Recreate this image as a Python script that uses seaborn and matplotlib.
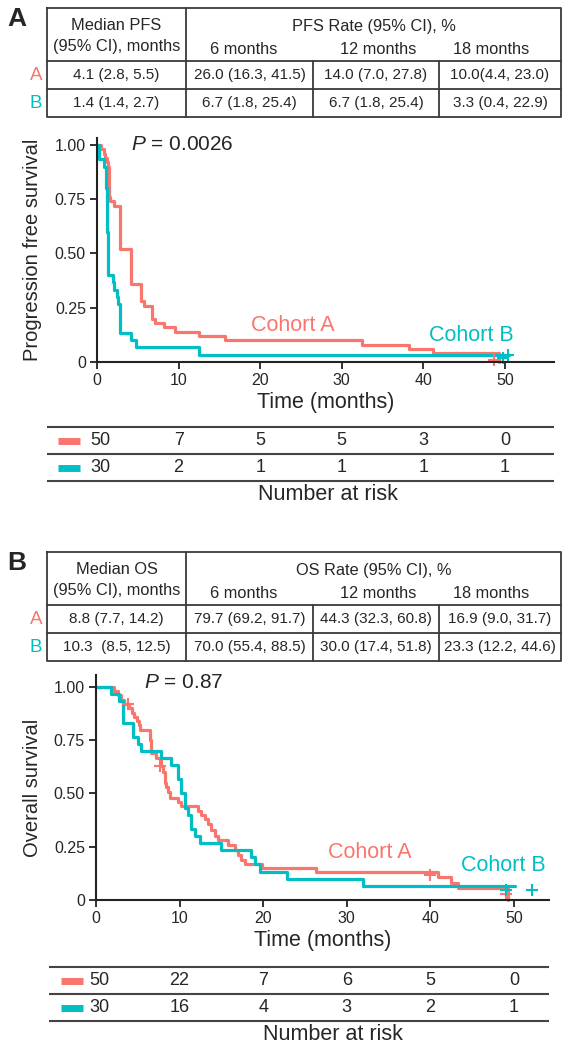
import numpy as np
import pandas as pd
import matplotlib
matplotlib.use("Agg")
import matplotlib.pyplot as plt
import seaborn as sns

sns.set_theme(style="ticks")
plt.rcParams['font.family'] = ['Liberation Sans', 'DejaVu Sans']
plt.rcParams['mathtext.fontset'] = 'custom'
plt.rcParams['mathtext.it'] = 'Liberation Sans:italic'
plt.rcParams['mathtext.rm'] = 'Liberation Sans'

SALMON = "#F8766D"
TEAL = "#00BFC4"
W, H = 570, 1050

# ─── Data ────────────────────────────────────────────────────────────────
# PFS Kaplan-Meier steps (months, survival)
pfs_a_t = [0, 0.5, 0.8, 1.0, 1.2, 1.3, 1.45, 1.6, 2.1, 2.85, 4.15, 5.45, 5.7,
           6.8, 7.1, 8.2, 9.6, 12.5, 15.7, 32.5, 38.2, 41.2, 49.3]
pfs_a_s = [1.0, 0.98, 0.96, 0.94, 0.92, 0.90, 0.76, 0.74, 0.72, 0.52, 0.36, 0.28, 0.26,
           0.20, 0.18, 0.16, 0.14, 0.12, 0.10, 0.08, 0.06, 0.04, 0.0]
pfs_b_t = [0, 0.3, 0.8, 1.1, 1.2, 1.3, 1.9, 2.1, 2.4, 2.6, 2.8, 4.15, 4.75, 12.5, 50.5]
pfs_b_s = [1.0, 0.933, 0.90, 0.80, 0.60, 0.40, 0.367, 0.333, 0.30, 0.267, 0.133,
           0.10, 0.067, 0.033, 0.033]
pfs_cens_a_t, pfs_cens_a_s = [48.7], [0.01]
pfs_cens_b_t, pfs_cens_b_s = [49.8, 50.4], [0.02, 0.033]

# OS Kaplan-Meier steps
os_a_t = [0, 2.2, 2.6, 3.0, 3.4, 4.0, 4.3, 4.6, 4.9, 5.1, 5.3, 6.4, 6.6, 7.2, 7.8,
          8.0, 8.2, 8.4, 8.6, 8.8, 9.8, 10.2, 12.2, 12.6, 13.0, 13.4, 13.8, 14.2,
          14.6, 15.8, 16.6, 17.0, 17.4, 17.8, 19.8, 26.3, 40.9, 42.5, 43.3, 49.3]
os_a_s = [1.0, 0.98, 0.96, 0.94, 0.92, 0.90, 0.88, 0.86, 0.84, 0.82, 0.797, 0.75,
          0.69, 0.665, 0.63, 0.60, 0.55, 0.53, 0.505, 0.48, 0.46, 0.443, 0.42, 0.40,
          0.38, 0.355, 0.33, 0.30, 0.28, 0.26, 0.235, 0.21, 0.19, 0.169, 0.148,
          0.132, 0.106, 0.081, 0.055, 0.0]
os_b_t = [0, 1.8, 2.8, 3.2, 4.4, 5.0, 5.4, 7.8, 9.0, 9.8, 10.2, 10.6, 11.0, 11.4,
          11.8, 12.4, 15.0, 18.6, 19.0, 19.6, 22.9, 31.9, 50.1]
os_b_s = [1.0, 0.967, 0.933, 0.833, 0.767, 0.733, 0.70, 0.667, 0.633, 0.567, 0.50,
          0.433, 0.40, 0.333, 0.30, 0.267, 0.233, 0.20, 0.167, 0.133, 0.10, 0.067, 0.067]
os_cens_a_t, os_cens_a_s = [3.8, 7.6, 40.0, 49.0], [0.92, 0.63, 0.115, 0.03]
os_cens_b_t, os_cens_b_s = [49.0, 52.2], [0.045, 0.045]

# Tables
rate_cols = ["6 months", "12 months", "18 months"]
pfs_median = ["4.1 (2.8, 5.5)", "1.4 (1.4, 2.7)"]
pfs_rates_a = ["26.0 (16.3, 41.5)", "14.0 (7.0, 27.8)", "10.0(4.4, 23.0)"]
pfs_rates_b = ["6.7 (1.8, 25.4)", "6.7 (1.8, 25.4)", "3.3 (0.4, 22.9)"]
os_median = ["8.8 (7.7, 14.2)", "10.3  (8.5, 12.5)"]
os_rates_a = ["79.7 (69.2, 91.7)", "44.3 (32.3, 60.8)", "16.9 (9.0, 31.7)"]
os_rates_b = ["70.0 (55.4, 88.5)", "30.0 (17.4, 51.8)", "23.3 (12.2, 44.6)"]

risk_times = [0, 10, 20, 30, 40, 50]
pfs_risk_a = [50, 7, 5, 5, 3, 0]
pfs_risk_b = [30, 2, 1, 1, 1, 1]
os_risk_a = [50, 22, 7, 6, 5, 0]
os_risk_b = [30, 16, 4, 3, 2, 1]


def px_axes(fig, left, top, right, bottom):
    return fig.add_axes([left / W, 1 - bottom / H, (right - left) / W, (bottom - top) / H])


def stats_table(ax, top, title, median_head, rate_head, med, rates_a, rates_b):
    x0, c1, c2, c3, x1 = 47, 186, 313, 439, 561
    hsep, rsep, bot = top + 53, top + 81, top + 109
    lc = "#3a3a3a"
    ax.plot([x0, x1, x1, x0, x0], [top, top, bot, bot, top], color=lc, lw=1.3)
    ax.plot([x0, x1], [hsep, hsep], color=lc, lw=1.3)
    ax.plot([x0, x1], [rsep, rsep], color=lc, lw=1.3)
    ax.plot([c1, c1], [top, bot], color=lc, lw=1.3)
    for c in (c2, c3):
        ax.plot([c, c], [hsep, bot], color=lc, lw=1.3)
    fs, hs = 11, 11.8
    ax.text(17, top + 11, title, fontsize=19, fontweight="bold", ha="center", va="center")
    ax.text((x0 + c1) / 2, top + 17, median_head[0], fontsize=hs, ha="center", va="center")
    ax.text((x0 + c1) / 2, top + 38, median_head[1], fontsize=hs, ha="center", va="center")
    ax.text((c1 + x1) / 2, top + 18, rate_head, fontsize=hs, ha="center", va="center")
    for cx, lab in zip([244, 378, 491], rate_cols):
        ax.text(cx, top + 41, lab, fontsize=hs, ha="center", va="center")
    centers = [(x0 + c1) / 2, (c1 + c2) / 2, (c2 + c3) / 2, (c3 + x1) / 2]
    for row, (lab, col, vals) in enumerate([("A", SALMON, [med[0]] + rates_a),
                                            ("B", TEAL, [med[1]] + rates_b)]):
        yc = (hsep + rsep) / 2 if row == 0 else (rsep + bot) / 2
        ax.text(36, yc, lab, fontsize=13.5, color=col, ha="center", va="center")
        for cx, v in zip(centers, vals):
            ax.text(cx, yc, v, fontsize=fs, ha="center", va="center")


def km_panel(fig, box, xmax, ytop, curves, cens, ylabel, ptext, pxy, labels):
    left, top, right, bottom = box
    ax = px_axes(fig, left, top, right, bottom)
    for (t, s), col in zip(curves, [SALMON, TEAL]):
        df = pd.DataFrame({"t": t, "s": s})
        sns.lineplot(data=df, x="t", y="s", drawstyle="steps-post", color=col,
                     lw=2.3, estimator=None, sort=False, ax=ax, clip_on=False)
    for (t, s), col in zip(cens, [SALMON, TEAL]):
        ax.plot(t, s, "+", color=col, ms=9, mew=1.5, clip_on=False)
    ax.set_xlim(0, xmax)
    ax.set_ylim(0, ytop)
    ax.set_xticks([0, 10, 20, 30, 40, 50])
    ax.set_yticks([0, 0.25, 0.5, 0.75, 1.0])
    ax.set_yticklabels(["0", "0.25", "0.50", "0.75", "1.00"])
    ax.tick_params(labelsize=11.5, length=5, width=1.3, color="#222222", pad=3)
    for sp in ("top", "right"):
        ax.spines[sp].set_visible(False)
    for sp in ("left", "bottom"):
        ax.spines[sp].set_linewidth(1.5)
        ax.spines[sp].set_color("#222222")
    ax.set_xlabel("Time (months)", fontsize=15.5, labelpad=3)
    ax.set_ylabel(ylabel, fontsize=14.5)
    ax.yaxis.set_label_coords((42 - left) / (right - left), 0.5)
    ax.text(pxy[0], pxy[1], "$\\it{P}$" + ptext, fontsize=15, ha="left", va="center")
    for (lx, ly, lab), col in zip(labels, [SALMON, TEAL]):
        ax.text(lx, ly, lab, fontsize=15.5, color=col, ha="center", va="center")
    return ax


def risk_table(fig, left0, xleft, xright, ppm, top, risks):
    ax = px_axes(fig, xleft, top - 5, xright, top + 75)
    ax.set_xlim((xleft - left0) / ppm, (xright - left0) / ppm)
    ax.set_ylim(top + 75, top - 5)
    ax.axis("off")
    lo, hi = ax.get_xlim()
    lc = "#444444"
    for yy in (top, top + 27, top + 54):
        ax.plot([lo, hi], [yy, yy], color=lc, lw=1.5)
    for (yy, col, vals) in zip([top + 13.5, top + 40.5], [SALMON, TEAL], risks):
        ax.plot([lo + 1.4, lo + 4.1], [yy, yy], color=col, lw=5, solid_capstyle="butt")
        for i, (tt, v) in enumerate(zip(risk_times, vals)):
            ax.text(tt + (0.4 if i == 0 else 0), yy, str(v), fontsize=13,
                    ha="center", va="center")
    ax.text(28.3, top + 68, "Number at risk", fontsize=15.5, ha="center", va="center")
    return ax


fig = plt.figure(figsize=(W / 100, H / 100), dpi=100)
over = fig.add_axes([0, 0, 1, 1])
over.set_xlim(0, W)
over.set_ylim(H, 0)
over.axis("off")

# ─── Panel A ─────────────────────────────────────────────────────────────
stats_table(over, 8, "A", ["Median PFS", "(95% CI), months"], "PFS Rate (95% CI), %",
            pfs_median, pfs_rates_a, pfs_rates_b)
ppm_a = (505 - 97) / 50
km_panel(fig, (97, 138, 97 + 56 * ppm_a, 362), 56, 1.032,
         [(pfs_a_t, pfs_a_s), (pfs_b_t, pfs_b_s)],
         [(pfs_cens_a_t, pfs_cens_a_s), (pfs_cens_b_t, pfs_cens_b_s)],
         "Progression free survival", " = 0.0026", (4.2, 1.0),
         [(24, 0.17, "Cohort A"), (45.9, 0.124, "Cohort B")])
risk_table(fig, 97, 47, 97 + 56 * ppm_a, ppm_a, 427, [pfs_risk_a, pfs_risk_b])

# ─── Panel B ─────────────────────────────────────────────────────────────
stats_table(over, 552, "B", ["Median OS", "(95% CI), months"], "OS Rate (95% CI), %",
            os_median, os_rates_a, os_rates_b)
ppm_b = (514 - 96) / 50
km_panel(fig, (96, 675, 96 + 54.2 * ppm_b, 900), 54.2, 1.056,
         [(os_a_t, os_a_s), (os_b_t, os_b_s)],
         [(os_cens_a_t, os_cens_a_s), (os_cens_b_t, os_cens_b_s)],
         "Overall survival", " = 0.87", (5.8, 1.02),
         [(32.7, 0.225, "Cohort A"), (48.7, 0.164, "Cohort B")])
risk_table(fig, 96, 49, 96 + 54.2 * ppm_b, ppm_b, 967, [os_risk_a, os_risk_b])

fig.savefig("out.png", dpi=100)
